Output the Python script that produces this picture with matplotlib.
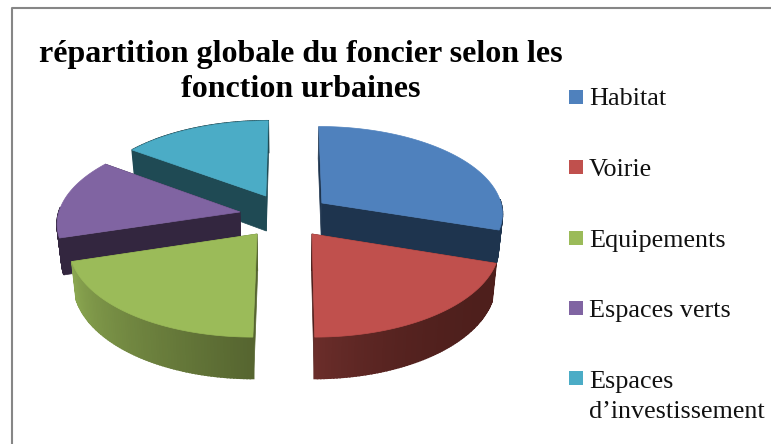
import numpy as np
import matplotlib
matplotlib.use('Agg')
import matplotlib.pyplot as plt
from matplotlib.colors import to_rgb
from matplotlib.patches import Polygon, Rectangle

labels = ['Habitat', 'Voirie', 'Equipements', 'Espaces verts', 'Espaces\nd\u2019investissement']
values = [30, 20, 20.3, 14.7, 15]
# how far each slice is pulled out, sideways and towards the back
pull_u = [0.178, 0.118, -0.177, -0.276, -0.136]
pull_v = [0.174, -0.178, -0.178, 0.069, 0.257]
top_colors = ['#4f81bd', '#c0504d', '#9bbb59', '#8064a2', '#4bacc6']
wall_colors = ['#1e344e', '#4e1f1c', '#566530', '#33263f', '#1f4a54']
rim_light = ['#1e344e', '#6a2d2a', '#8aa650', '#33263f', '#1f4a54']
title = 'répartition globale du foncier selon les\nfonction urbaines'

# perspective of the pie, in pixels
CX, CY = 290, 218
RX, RY = 182.5, 88
K = 0.11
DEPTH = 36
BOTTOM_SCALE = 0.98


def project(u, v, low=False):
    s = 1 / (1 + K * v)
    if low:
        return CX + RX * u * s * BOTTOM_SCALE, CY - RY * v * s + DEPTH * s
    return CX + RX * u * s, CY - RY * v * s


def lerp(c1, c2, t):
    a, b = np.array(to_rgb(c1)), np.array(to_rgb(c2))
    return tuple(a + (b - a) * t)


fig = plt.figure(figsize=(7.71, 4.44), dpi=100)
ax = fig.add_axes([0, 0, 1, 1])
ax.set_xlim(0, 771)
ax.set_ylim(444, 0)
ax.axis('off')

# border of the chart, open on the right and bottom
ax.plot([12, 12, 771], [444, 8.5, 8.5], color='#868686', lw=1.5)

# angles from the values, clockwise from 12 o'clock
edges = np.radians(np.cumsum([0] + values) / sum(values) * 360)

# back slices first
order = [4, 0, 3, 1, 2]
for i in order:
    t0, t1 = edges[i], edges[i + 1]
    ou, ov = pull_u[i], pull_v[i]
    th = np.linspace(t0, t1, 80)
    ru, rv = ou + np.sin(th), ov + np.cos(th)

    # the two radial walls
    for t in (t0, t1):
        eu, ev = ou + np.sin(t), ov + np.cos(t)
        pts = [project(ou, ov), project(eu, ev), project(eu, ev, True), project(ou, ov, True)]
        ax.add_patch(Polygon(pts, color=wall_colors[i], lw=0.5, zorder=2))

    # outer wall, in strips for the shading
    for j in range(len(th) - 1):
        if np.cos(th[j]) > 0.05 and i in (0, 3):
            continue
        pts = [project(ru[j], rv[j]), project(ru[j + 1], rv[j + 1]),
               project(ru[j + 1], rv[j + 1], True), project(ru[j], rv[j], True)]
        f = j / (len(th) - 2)
        if i == 1:
            f = f ** 3
        ax.add_patch(Polygon(pts, color=lerp(wall_colors[i], rim_light[i], f), lw=1.2, zorder=2))

    # top face
    x, y = project(np.r_[ou, ru], np.r_[ov, rv])
    ax.add_patch(Polygon(np.c_[x, y], color=top_colors[i], lw=0.5, zorder=2))

ax.text(301, 72, title, family='Liberation Serif', weight='bold', fontsize=23,
        ha='center', va='center', color='black', linespacing=1.27)

for i, lab in enumerate(labels):
    ax.add_patch(Rectangle((569, 90 + i * 70.25), 14, 14, color=top_colors[i], lw=0, zorder=3))
    y = 105 + i * 70.75
    ax.text(589, y, lab.split('\n')[0], family='Liberation Serif', fontsize=18.8,
            color='#111111', va='baseline')
    if '\n' in lab:
        ax.text(589, y + 30, lab.split('\n')[1], family='Liberation Serif', fontsize=18.8,
                color='#111111', va='baseline')

fig.savefig('out.png', dpi=100)
